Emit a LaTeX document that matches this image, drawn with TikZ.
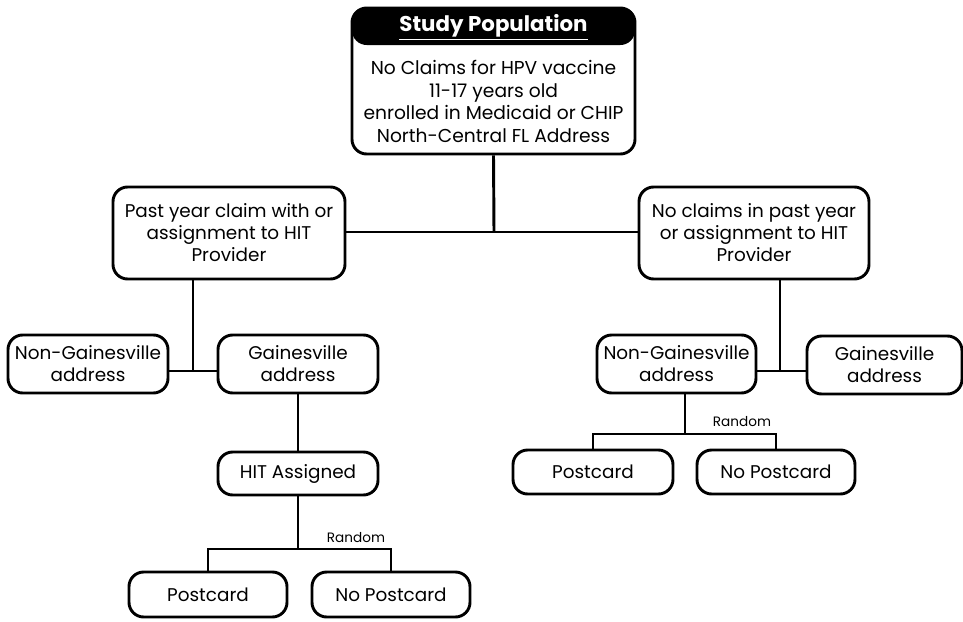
\documentclass[tikz,border=0pt]{standalone}
\usepackage{fontspec}
\setmainfont{Poppins}

\begin{document}
\begin{tikzpicture}[x=0.75pt,y=0.75pt,yscale=-1,xscale=1,
  rbox/.style={draw, line width=2.2pt, rounded corners=11pt, align=center, inner sep=0pt, font=\fontsize{13.8}{16.5}\selectfont},
  link/.style={line width=2.2pt},
  rndtxt/.style={inner sep=0.75pt, font=\fontsize{10.2}{12}\selectfont}]
\useasboundingbox (0,0) rectangle (963,621);

%Shape: Rounded Rect [id:study population]
\node (pop) at (493.5,81) [rbox, minimum width=212.25pt, minimum height=109.5pt,
  path picture={\fill (path picture bounding box.north west) rectangle ([yshift=-27.75pt]path picture bounding box.north east);}] {};
% Text Node
\node (pophead) at (493.5,27) [inner sep=0.75pt, text=white, font=\fontsize{16}{19}\selectfont\bfseries] {\underline{Study Population}};
% Text Node
\node (popbody) at (493.5,101.5) [inner sep=0.75pt, align=center, font=\fontsize{14}{16.9}\selectfont] {No Claims for HPV vaccine\\11-17 years old\\enrolled in Medicaid or CHIP\\North-Central FL Address};

%Shape: Rounded Rect [id:past year]
\node (past) at (229,233) [rbox, minimum width=174pt, minimum height=69pt] {Past year claim with or\\assignment to HIT\\Provider};
%Shape: Rounded Rect [id:no claims]
\node (noclaim) at (754,233) [rbox, minimum width=172.5pt, minimum height=69pt] {No claims in past year\\or assignment to HIT\\Provider};

%Shape: Rounded Rect [id:left address]
\node (lng) at (88,364) [rbox, minimum width=120pt, minimum height=43.5pt] {Non-Gainesville\\address};
\node (lg) at (298,364) [rbox, minimum width=120pt, minimum height=43.5pt] {Gainesville\\address};
%Shape: Rounded Rect [id:hit]
\node (hit) at (298,473.5) [rbox, minimum width=120pt, minimum height=32.25pt] {HIT Assigned};
%Shape: Rounded Rect [id:left postcards]
\node (lpost) at (208,594.5) [rbox, minimum width=118.5pt, minimum height=33.75pt] {Postcard};
\node (lnopost) at (391,594.5) [rbox, minimum width=118.5pt, minimum height=33.75pt] {No Postcard};

%Shape: Rounded Rect [id:right address]
\node (rng) at (676.5,364) [rbox, minimum width=119.25pt, minimum height=43.5pt] {Non-Gainesville\\address};
\node (rg) at (884.5,365) [rbox, minimum width=116.25pt, minimum height=43.5pt] {Gainesville\\address};
%Shape: Rounded Rect [id:right postcards]
\node (rpost) at (593,472) [rbox, minimum width=120pt, minimum height=33pt] {Postcard};
\node (rnopost) at (776,472) [rbox, minimum width=118.5pt, minimum height=33pt] {No Postcard};

%Straight Lines [id:top split]
\coordinate (top) at (494,232);
\draw [link] (pop.south) -- (top);
\draw [link] (past.east |- top) -- (noclaim.west |- top);

%Straight Lines [id:left split]
\coordinate (jl) at (193,371);
\draw [link] (past.south -| jl) -- (jl);
\draw [link] (lng.east |- jl) -- (lg.west |- jl);
\draw [link] (lg.south) -- (hit.north);
\coordinate (rl) at (298,549);
\draw [link] (hit.south) -- (rl);
\draw [link] (lpost.north) |- (rl) -| (lnopost.north);

%Straight Lines [id:right split]
\coordinate (jr) at (780,371);
\draw [link] (noclaim.south -| jr) -- (jr);
\draw [link] (rng.east |- jr) -- (rg.west |- jr);
\coordinate (rr) at (685,434);
\draw [link] (rng.south -| rr) -- (rr);
\draw [link] (rpost.north) |- (rr) -| (rnopost.north);

% Text Node
\node (rndl) at (356,538) [rndtxt] {Random};
% Text Node
\node (rndr) at (742,422) [rndtxt] {Random};

\end{tikzpicture}
\end{document}
